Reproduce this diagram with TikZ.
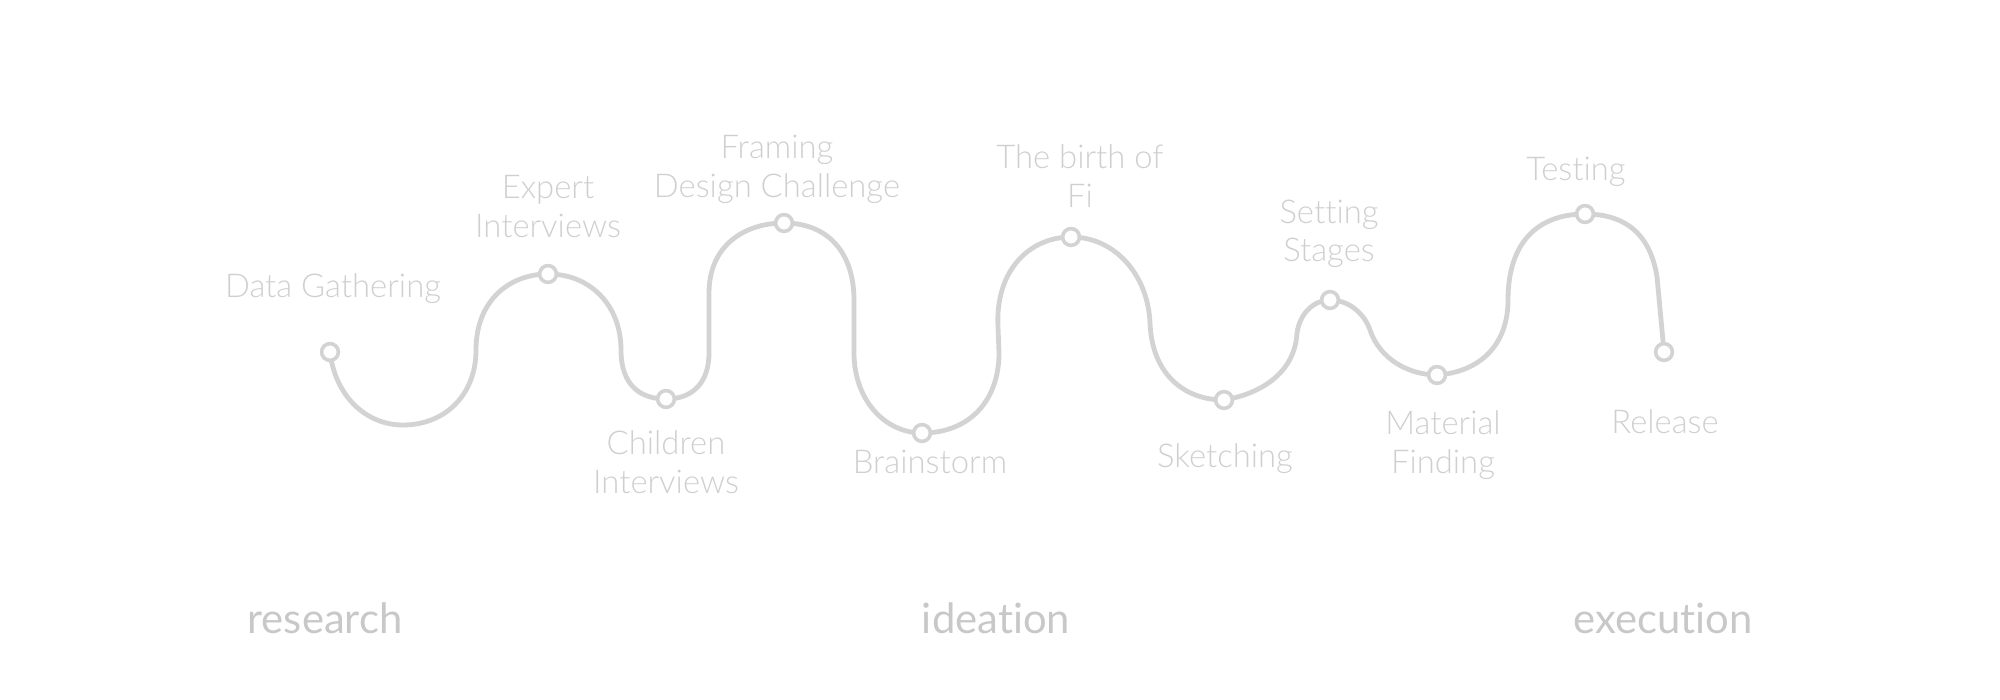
\documentclass[tikz,border=0pt]{standalone}
\usepackage{fontspec}
\setmainfont{Lato}[Ligatures=NoCommon]
\IfFontExistsTF{Lato Light}{\newfontfamily\lightfont{Lato Light}[Ligatures=NoCommon]}{\newfontfamily\lightfont{Lato}[Ligatures=NoCommon]}
\usetikzlibrary{backgrounds}
\definecolor{linegray}{HTML}{D3D3D3}
\definecolor{labelgray}{HTML}{CFCFCF}
\definecolor{phasegray}{HTML}{C8C8C8}
\begin{document}
\begin{tikzpicture}[x=0.5pt,y=-0.5pt,
  dot/.style={circle,draw=linegray,fill=white,line width=1.8pt,minimum size=8.4pt,inner sep=0pt},
  wave/.style={draw=linegray,line width=2.4pt},
  lbl/.style={font=\lightfont\fontsize{16.4pt}{19.5pt}\selectfont,text=labelgray,align=center,anchor=base,inner sep=0pt},
  phase/.style={font=\fontsize{20.9pt}{24pt}\selectfont,text=phasegray,anchor=base,inner sep=0pt}]
\useasboundingbox (0,0) rectangle (2000,700);
% markers
\node[dot] (dg) at (330,352) {};
\node[dot] (ex) at (548,274) {};
\node[dot] (ch) at (666,399) {};
\node[dot] (fr) at (784,223) {};
\node[dot] (br) at (922,433) {};
\node[dot] (fi) at (1071,237) {};
\node[dot] (sk) at (1224,400) {};
\node[dot] (st) at (1330,300) {};
\node[dot] (ma) at (1437,375) {};
\node[dot] (te) at (1585,214) {};
\node[dot] (re) at (1664,352) {};
% wave
\begin{scope}[on background layer]
\draw[wave]
  (dg.center) .. controls (335,395) and (365,425) .. (403,425)
  .. controls (445,425) and (476,395) .. (476,350)
  .. controls (476,300) and (510,274) .. (ex.center)
  .. controls (590,274) and (621,305) .. (621,350)
  .. controls (621,385) and (640,399) .. (ch.center)
  .. controls (695,399) and (709,380) .. (709,353)
  -- (709,293)
  .. controls (709,245) and (745,223) .. (fr.center)
  .. controls (830,223) and (854,255) .. (854,300)
  -- (854,353)
  .. controls (854,400) and (885,433) .. (br.center)
  .. controls (970,433) and (999,400) .. (999,353)
  -- (998,327)
  .. controls (995,270) and (1030,237) .. (fi.center)
  .. controls (1115,237) and (1148,275) .. (1150,323)
  .. controls (1152,375) and (1185,400) .. (sk.center)
  .. controls (1265,393) and (1295,370) .. (1297,333)
  .. controls (1300,312) and (1315,300) .. (st.center)
  .. controls (1350,300) and (1365,315) .. (1370,330)
  .. controls (1380,360) and (1410,375) .. (ma.center)
  .. controls (1480,372) and (1508,345) .. (1508,300)
  .. controls (1508,240) and (1540,214) .. (te.center)
  .. controls (1635,214) and (1652,245) .. (1657,277)
  -- (re.center);
\end{scope}
% labels (base = baseline of the last line)
\node[lbl] (tdg) at (333,297) {Data Gathering};
\node[lbl] (tex) at (548,237) {Expert\\Interviews};
\node[lbl] (tfr) at (777,198) {Framing\\Design Challenge};
\node[lbl] (tch) at (666,493) {Children\\Interviews};
\node[lbl] (tbr) at (930,473) {Brainstorm};
\node[lbl] (tfi) at (1080,207) {The birth of\\Fi};
\node[lbl] (tsk) at (1225,467) {Sketching};
\node[lbl] (tst) at (1329,262) {Setting\\Stages};
\node[lbl] (tma) at (1443,473) {Material\\Finding};
\node[lbl] (tte) at (1576,181) {Testing};
\node[lbl] (tre) at (1665,433) {Release};
% phases
\node[phase] (p1) at (325,633) {research};
\node[phase] (p2) at (996,633) {ideation};
\node[phase] (p3) at (1663,633) {execution};
\end{tikzpicture}
\end{document}
